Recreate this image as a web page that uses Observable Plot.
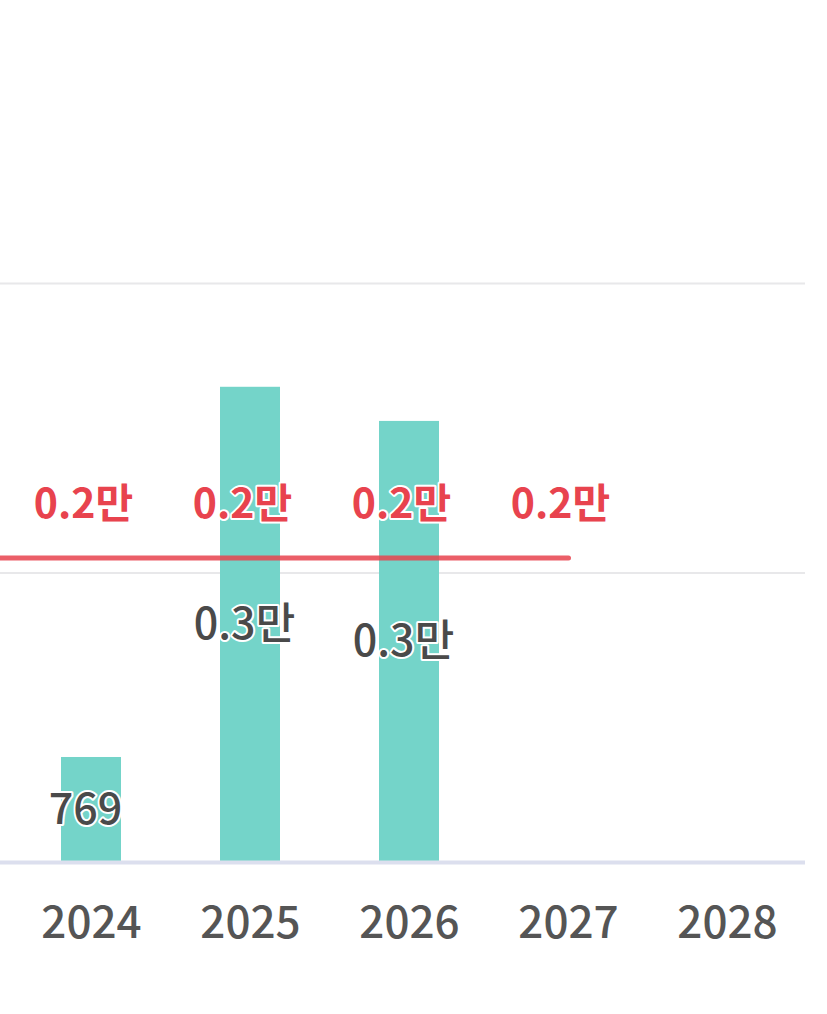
<!DOCTYPE html>
<html><head><meta charset="utf-8">
<script src="https://cdn.jsdelivr.net/npm/d3@7"></script>
<script src="https://cdn.jsdelivr.net/npm/@observablehq/plot@0.6"></script>
<style>
html,body{margin:0;padding:0;background:#fff;}
#chart{width:827px;height:1014px;overflow:hidden;position:relative;}
#chart svg{overflow:hidden;}
</style></head><body><div id="chart"></div>
<script>
const years = ["2023", "2024", "2025", "2026", "2027", "2028"];
const visibleYears = ["2024", "2025", "2026", "2027", "2028"];
const barValues = [null, 769, 3480, 3230, null, null];
const lineValues = [2230, 2230, 2230, 2230, 2230, null];
const yTicks = [0, 2120, 4240];

const fmt = v => v >= 1000 ? (Math.floor(v / 1000) / 10).toFixed(1) + "만" : String(v);

const bars = years.map((y, i) => ({year: y, value: barValues[i]})).filter(d => d.value != null);
const line = years.map((y, i) => ({year: y, value: lineValues[i]})).filter(d => d.value != null);
const lineLabels = line.filter(d => visibleYears.includes(d.year));

const RED = "#e8434e";
const plot = Plot.plot({
  width: 827,
  height: 1014,
  marginTop: 283,
  marginBottom: 152,
  marginLeft: 0,
  marginRight: 22,
  style: {fontFamily: "'Noto Sans CJK KR', 'Noto Sans', sans-serif", background: "#fff"},
  x: {domain: years, range: [-147.5, 806.5], paddingInner: 0.62, paddingOuter: 0.31, align: 0.5},
  y: {domain: [0, 4240], axis: null},
  marks: [
    Plot.ruleY(yTicks.slice(1), {stroke: "#e8e8ea", strokeWidth: 2}),
    Plot.barY(bars, {x: "year", y: "value", fill: "#74d4c9"}),
    Plot.ruleY([0], {stroke: "#dcdfee", strokeWidth: 4}),
    Plot.line(line, {x: "year", y: "value", stroke: RED, strokeWidth: 5, strokeLinecap: "round", strokeOpacity: 0.85}),
    Plot.text(lineLabels, {x: "year", y: "value", text: d => fmt(d.value), dy: -53, dx: -8, fill: RED, fontSize: 41, fontWeight: "bold", stroke: "white", strokeWidth: 4, letterSpacing: "-2px"}),
    Plot.text(bars, {x: "year", y: d => d.value / 2, text: d => fmt(d.value), dx: -6, fill: "#4a4a4a", fontSize: 43, fontWeight: 500, stroke: "white", strokeWidth: 4, letterSpacing: "-2px"}),
    Plot.axisX(visibleYears, {tickSize: 0, tickPadding: 44, fontSize: 44, fontWeight: 500, color: "#555", label: null, letterSpacing: "-2px"})
  ]
});
document.getElementById("chart").appendChild(plot);
</script>
</body></html>
